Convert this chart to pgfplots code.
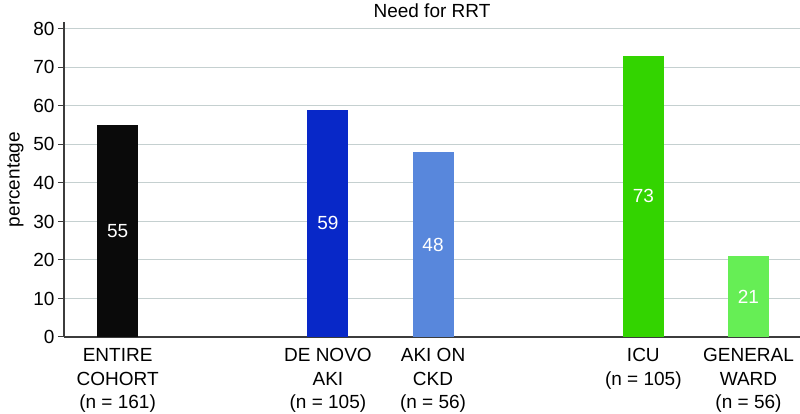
\documentclass[border=0pt]{standalone}
\usepackage{fontspec}
\setmainfont{Liberation Sans}
\usepackage{pgfplots}
\usepackage{pgfplotstable}
\pgfplotsset{compat=1.18}
\usetikzlibrary{calc}
\definecolor{cEntire}{RGB}{10,10,10}
\definecolor{cDeNovo}{RGB}{8,40,200}
\definecolor{cAkiCkd}{RGB}{88,135,220}
\definecolor{cIcu}{RGB}{51,212,0}
\definecolor{cWard}{RGB}{102,238,85}
\definecolor{gridc}{RGB}{197,208,208}
\definecolor{axisc}{RGB}{60,60,60}

\pgfplotstableread{
x v
0 55
2 59
3 48
5 73
6 21
}\rrt

\begin{document}
\begin{tikzpicture}
\begin{axis}[
  scale only axis, width=736pt, height=315pt,
  xmin=-0.51, xmax=6.49, ymin=0, ymax=81.8,
  axis lines*=left,
  axis line style={axisc, line width=1.4pt},
  ytick={0,10,...,80},
  xtick={0,2,3,5,6},
  xticklabels={{ENTIRE\\COHORT\\(n = 161)},{DE NOVO\\AKI\\(n = 105)},{AKI ON\\CKD\\(n = 56)},{ICU\\(n = 105)},{GENERAL\\WARD\\(n = 56)}},
  ymajorgrids, grid style={gridc, line width=1pt},
  tick align=outside,
  major tick length=6pt,
  ytick style={axisc, line width=1pt},
  xtick style={draw=none},
  /pgf/number format/assume math mode=true,
  ticklabel style={font=\fontsize{19}{23.5}\selectfont},
  xticklabel style={align=center, anchor=north, yshift=-2pt},
  ylabel={percentage},
  ylabel style={font=\fontsize{19}{23}\selectfont, xshift=0pt, yshift=3pt},
  title={Need for RRT},
  title style={font=\fontsize{19}{22}\selectfont, at={(0.5,1)}, anchor=base, yshift=-2pt},
]
\coordinate (sw) at (rel axis cs:0,0);
\addplot[ybar, bar width=0.39, bar shift=0pt, fill=cEntire, draw=none, restrict expr to domain={\coordindex}{0:0}] table[x=x, y=v] {\rrt};
\addplot[ybar, bar width=0.39, bar shift=0pt, fill=cDeNovo, draw=none, restrict expr to domain={\coordindex}{1:1}] table[x=x, y=v] {\rrt};
\addplot[ybar, bar width=0.39, bar shift=0pt, fill=cAkiCkd, draw=none, restrict expr to domain={\coordindex}{2:2}] table[x=x, y=v] {\rrt};
\addplot[ybar, bar width=0.39, bar shift=0pt, fill=cIcu, draw=none, restrict expr to domain={\coordindex}{3:3}] table[x=x, y=v] {\rrt};
\addplot[ybar, bar width=0.39, bar shift=0pt, fill=cWard, draw=none, restrict expr to domain={\coordindex}{4:4}] table[x=x, y=v] {\rrt};
\addplot[draw=none, mark=none, nodes near coords, point meta=explicit,
  every node near coord/.append style={text=white, anchor=center, font=\fontsize{19}{23}\selectfont}]
  table[x=x, y expr=\thisrow{v}/2, meta=v] {\rrt};
\end{axis}
\pgfresetboundingbox
\path[use as bounding box] ($(sw)+(-64pt,-77pt)$) rectangle ($(sw)+(736pt,337pt)$);
\end{tikzpicture}
\end{document}
